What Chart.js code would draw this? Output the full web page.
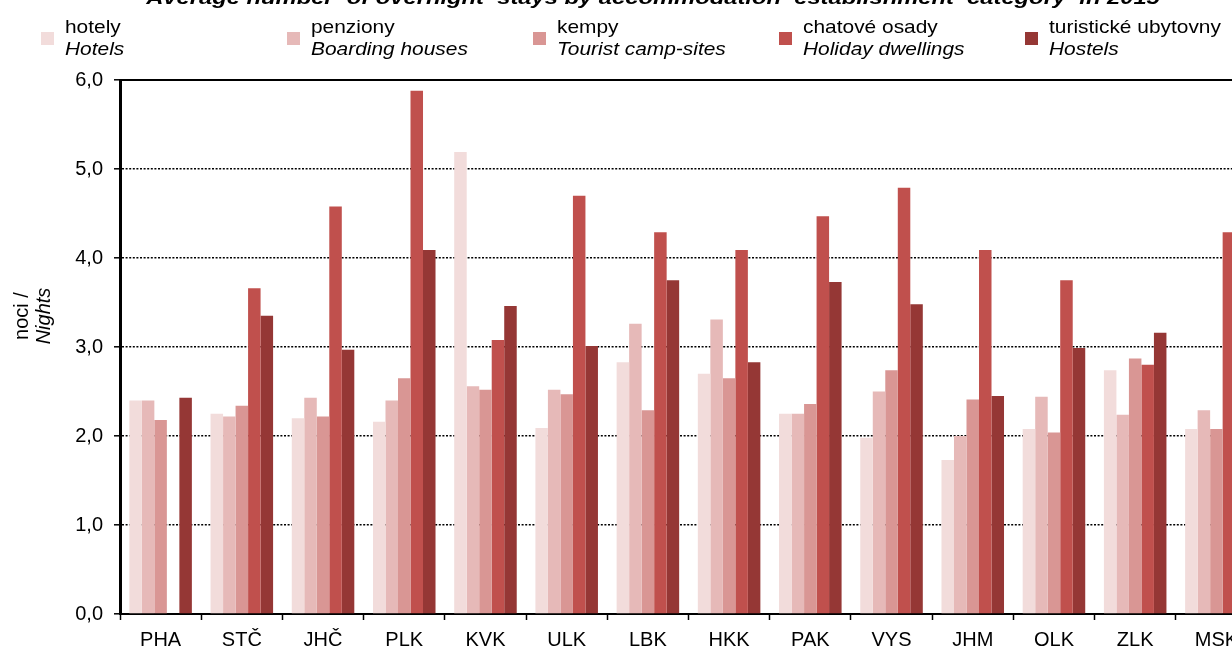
<!DOCTYPE html>
<html>
<head>
<meta charset="utf-8">
<script src="https://cdn.jsdelivr.net/npm/chart.js@4.4.1/dist/chart.umd.min.js"></script>
<style>
  html, body { margin: 0; padding: 0; background: #fff; overflow: hidden; }
  #wrap { width: 1232px; height: 651px; overflow: hidden; }
  canvas { display: block; }
</style>
</head>
<body>
<div id="wrap"><canvas id="nightsChart" width="1280" height="651"></canvas></div>
<script>
const regions = ["PHA", "STČ", "JHČ", "PLK", "KVK", "ULK", "LBK", "HKK", "PAK", "VYS", "JHM", "OLK", "ZLK", "MSK"];
const hotels = [2.40, 2.25, 2.20, 2.16, 5.19, 2.09, 2.83, 2.70, 2.25, 1.98, 1.73, 2.08, 2.74, 2.08];
const boardingHouses = [2.40, 2.22, 2.43, 2.40, 2.56, 2.52, 3.26, 3.31, 2.25, 2.50, 2.00, 2.44, 2.24, 2.29];
const campSites = [2.18, 2.34, 2.22, 2.65, 2.52, 2.47, 2.29, 2.65, 2.36, 2.74, 2.41, 2.04, 2.87, 2.08];
const holidayDwellings = [null, 3.66, 4.58, 5.88, 3.08, 4.70, 4.29, 4.09, 4.47, 4.79, 4.09, 3.75, 2.80, 4.29];
const hostels = [2.43, 3.35, 2.97, 4.09, 3.46, 3.01, 3.75, 2.83, 3.73, 3.48, 2.45, 2.99, 3.16, 3.44];
const yTicks = [0, 1, 2, 3, 4, 5, 6];

const namesCz = ["hotely", "penziony", "kempy", "chatové osady", "turistické ubytovny"];
const namesEn = ["Hotels", "Boarding houses", "Tourist camp-sites", "Holiday dwellings", "Hostels"];
const colors = ["#F2DCDB", "#E6B9B8", "#D99694", "#C0504D", "#953735"];
const titleText = "Average number  of overnight  stays by accommodation  establishment  category  in 2015";

const FONT = "'Liberation Sans', Arial, sans-serif";

// text is a bit wider in the original, so stretch it horizontally
function wideText(ctx, text, x, y, font, align, sx) {
  ctx.save();
  ctx.translate(x, y);
  ctx.scale(sx, 1);
  ctx.font = font;
  ctx.textAlign = align;
  ctx.textBaseline = "alphabetic";
  ctx.fillText(text, 0, 0);
  ctx.restore();
}

const decorations = {
  id: "decorations",
  afterDraw(chart) {
    const ctx = chart.ctx;
    const area = chart.chartArea;
    ctx.save();
    ctx.fillStyle = "#000";

    // solid top line of the plot
    ctx.strokeStyle = "#000";
    ctx.lineWidth = 2;
    ctx.beginPath();
    ctx.moveTo(area.left, area.top);
    ctx.lineTo(area.right, area.top);
    ctx.stroke();

    // title (cut off by the top edge)
    wideText(ctx, titleText, 653, 4, "bold italic 19px " + FONT, "center", 1.25);

    // legend
    for (let i = 0; i < namesCz.length; i++) {
      const x = 41 + i * 246;
      ctx.fillStyle = colors[i];
      ctx.fillRect(x, 32, 13, 13);
      ctx.fillStyle = "#000";
      wideText(ctx, namesCz[i], x + 24, 33, "19px " + FONT, "left", 1.1);
      wideText(ctx, namesEn[i], x + 24, 55, "italic 19px " + FONT, "left", 1.1);
    }

    // y axis title
    ctx.save();
    ctx.translate(0, 316);
    ctx.rotate(-Math.PI / 2);
    ctx.textAlign = "center";
    ctx.font = "20px " + FONT;
    ctx.fillText("noci /", 0, 28);
    ctx.font = "italic 20px " + FONT;
    ctx.fillText("Nights", 0, 50);
    ctx.restore();

    ctx.restore();
  }
};

const series = [hotels, boardingHouses, campSites, holidayDwellings, hostels];

new Chart(document.getElementById("nightsChart").getContext("2d"), {
  type: "bar",
  data: {
    labels: regions,
    datasets: series.map((data, i) => ({
      label: namesEn[i],
      data: data,
      backgroundColor: colors[i],
      borderWidth: 0,
      categoryPercentage: 0.77,
      barPercentage: 1.0,
    })),
  },
  options: {
    responsive: false,
    animation: false,
    layout: { padding: { top: 80, right: 23, bottom: 0, left: 0 } },
    plugins: {
      legend: { display: false },
      tooltip: { enabled: false },
      title: { display: false },
    },
    scales: {
      x: {
        afterFit(scale) { scale.height = 37; },
        grid: {
          drawOnChartArea: false,
          drawTicks: true,
          tickLength: 6,
          tickColor: "#000",
          tickWidth: 1.5,
          offset: true,
        },
        border: { display: true, color: "#000", width: 2 },
        ticks: {
          color: "#000",
          font: { family: FONT, size: 20 },
          padding: 8,
          maxRotation: 0,
          autoSkip: false,
        },
      },
      y: {
        min: 0,
        max: 6,
        afterFit(scale) { scale.width = 120; },
        afterBuildTicks(scale) { scale.ticks = yTicks.map(v => ({ value: v })); },
        grid: {
          color: "#000",
          lineWidth: 1.6,
          drawTicks: true,
          tickLength: 6,
          tickColor: "#000",
          tickWidth: 1.5,
        },
        border: { display: true, color: "#000", width: 3, dash: [2, 1.6] },
        ticks: {
          color: "#000",
          font: { family: FONT, size: 20 },
          padding: 11,
          callback: v => v.toFixed(1).replace(".", ","),
        },
      },
    },
  },
  plugins: [decorations],
});
</script>
</body>
</html>
